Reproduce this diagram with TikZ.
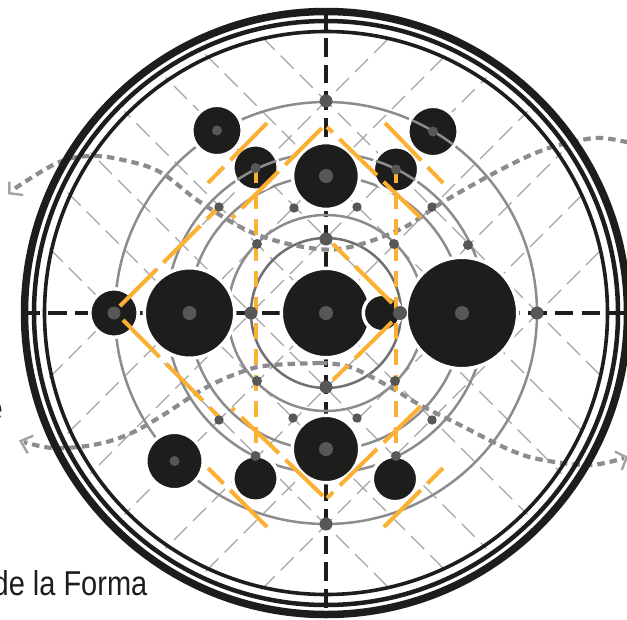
\documentclass[tikz,border=0pt]{standalone}
\usepackage{fontspec}
\newfontfamily\labelfont[FakeStretch=.84]{Liberation Sans}
\usepackage{xcolor}
\usepackage{tikz}
\definecolor{inkblack}{HTML}{1D1D1B}
\definecolor{dotgray}{HTML}{575756}
\definecolor{ringgray}{HTML}{8C8C8C}
\definecolor{gridgray}{HTML}{A4A4A4}
\definecolor{lineorange}{HTML}{FBB034}

\begin{document}
\begin{tikzpicture}[
  x=1pt, y=-1pt,
  gridline/.style={draw=gridgray, line width=1.2pt, dash pattern=on 18.5pt off 8.5pt},
  axisline/.style={draw=inkblack, line width=3.8pt, dash pattern=on 18.5pt off 8.2pt},
  ringline/.style={draw=ringgray, line width=2.5pt},
  orangeline/.style={draw=lineorange, line width=4pt, dash pattern=on 52pt off 9.5pt},
  orangevert/.style={draw=lineorange, line width=4pt, dash pattern=on 16pt off 10pt},
  dotline/.style={draw=ringgray, line width=4.2pt, dash pattern=on 7.5pt off 5pt},
  barbline/.style={draw=gridgray, line width=2.4pt, line join=miter},
  disc/.style={circle, fill=inkblack, draw=white, line width=3.5pt, inner sep=0pt,
               minimum size=2*(#1+1.75)*1pt},
  dot/.style={circle, fill=dotgray, inner sep=0pt, minimum size=2*#1*1pt},
  lettering/.style={inner sep=0pt, text=inkblack, font=\labelfont\fontsize{34.5}{34.5}\selectfont},
]
\useasboundingbox (0,0) rectangle (627,619);
\clip (0,0) rectangle (627,619);
\coordinate (centre) at (326,313);

%% --- grid ---
\begin{scope}
  \clip (centre) circle (285pt);
  \foreach \c in {-212,-138,-75,0,75,138,212} {
    \draw[gridline] ({326+\c/2-285},{313-\c/2-285}) -- ++(570,570);
    \draw[gridline] ({326+\c/2-285},{313+\c/2+285}) -- ++(570,-570);
  }
\end{scope}

%% --- axes ---
\foreach \tx/\ty/\ph in {21/313/7.5, 627/313/11.5, 326/9/10.5, 326/616/17.7}
  \draw[axisline, dash phase=\ph pt] (centre) -- (\tx,\ty);

%% --- rings ---
\foreach \r in {211,160,137,98}
  \draw[ringline] (centre) circle (\r pt);
\draw[ringline, draw=ringgray!80!black] (centre) circle (75pt);

%% --- dotted curves ---
\draw[dotline] plot[smooth, tension=.6] coordinates {(640,145) (603,138) (577,141) (543,150)
  (500,170) (443,202) (403,228) (350,247) (310,248) (253,233) (200,202) (160,172) (123,160)
  (90,156) (57,163) (11,191)};
\draw[dotline] plot[smooth, tension=.6] coordinates {(320,363) (350,367) (390,387) (420,405)
  (460,425) (510,450) (543,460) (590,465) (624,458)};
\draw[dotline] plot[smooth, tension=.6] coordinates {(320,363) (273,365) (247,370) (207,387)
  (160,417) (127,435) (93,445) (53,448) (24,442)};
\draw[barbline] (9.3,181.7) -- (9.3,193.3) -- (23.3,195);
\draw[barbline] (615,451.7) -- (626.7,457.3) -- (621.7,470);
\draw[barbline] (33.3,435.7) -- (20.7,441) -- (27.7,453.3);

%% --- black discs ---
\foreach \x/\y/\r [count=\i] in {326/313/43, 382/313/17, 462/313/54, 189.5/313/43.5,
    114/313/22.5, 326/176/31.7, 326/449/32, 217/130.5/23.5, 433/131.5/23.5,
    255.5/167.5/21, 396/169.5/21, 174.5/461/27, 255.5/478.5/21, 395/479/21}
  \node[disc=\r] (disc\i) at (\x,\y) {};

%% --- rings that pass over a disc ---
\begin{scope}
  \clip (433,131.5) circle (24pt);
  \draw[ringline] (centre) circle (211pt);
\end{scope}
\begin{scope}
  \clip (255.5,167.5) circle (22pt) (396,169.5) circle (22pt);
  \draw[ringline] (centre) circle (160pt);
\end{scope}

%% --- orange lines ---
\foreach \ax/\ay/\bx/\by in {120/306/219/207, 322/128/232/218, 267/123/208/183,
    421/218/327/127, 385/123/443/183, 392/303/333/244, 392/322/333/380,
    123/320/222/420, 323/496/232/408, 421/406/327/498, 267/527/208/468, 384/527/443/468}
  \draw[orangeline] (\ax,\ay) -- (\bx,\by);
\draw[orangevert] (256,167) -- (256,450);
\draw[orangevert] (396,167) -- (396,449);

%% --- gray dots ---
\foreach \x/\y/\r [count=\i] in {326/101/6.5, 537/313/6.5, 326/524/6.5, 114/313/6.5, 251/313/6.5,
    400/313/7, 326/239/6.5, 326/387/6.5, 326/313/7, 189.5/313/7, 462/313/7, 326/176/7, 326/449/7,
    257/244/5, 394/244/5, 257/381/5, 395/381/5, 219/207/4.7, 294/208/4.7, 357/207/4.7,
    432/207/4.7, 468/245/5, 219/420/4.7, 293/418/4.7, 357/418/4.7, 432/420/4.7,
    255.5/456/5, 396/456/5, 217/130.5/5, 433/131.5/5, 255.5/168/5, 396/169.5/5, 174.5/461/5}
  \node[dot=\r] (dot\i) at (\x,\y) {};

%% --- outer rings ---
\draw[inkblack, line width=7.5pt] (centre) circle (301.5pt);
\draw[inkblack, line width=4.5pt] (centre) circle (292pt);
\draw[inkblack, line width=3.6pt] (centre) circle (281.5pt);

%% --- lettering, cut by the page ---
\node[lettering, anchor=base east] (formalabel) at (147.5,595) {de la Forma};
\node[lettering, anchor=base east] (cutletter) at (3,420) {e};

\end{tikzpicture}
\end{document}
